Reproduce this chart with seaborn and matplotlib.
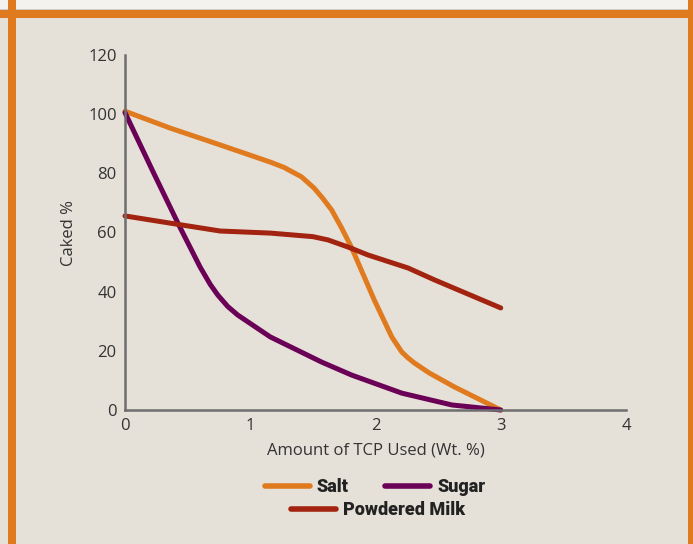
import matplotlib
matplotlib.use("Agg")
import matplotlib.pyplot as plt
from matplotlib.patches import Rectangle
from matplotlib.lines import Line2D
import seaborn as sns
import pandas as pd

# Caking test results: percentage caked vs. TCP added
salt_x = [0, 0.36, 0.76, 1.16, 1.27, 1.41, 1.51, 1.58, 1.65, 1.73, 1.81, 1.99, 2.13, 2.21, 2.26, 2.31, 2.43, 2.63, 3.0]
salt_y = [101, 95.3, 89.6, 83.8, 82.0, 78.8, 75, 71.5, 67.6, 61.5, 54.8, 37.2, 24.7, 19.6, 17.6, 15.9, 12.5, 7.8, 0]
sugar_x = [0, 0.23, 0.43, 0.6, 0.68, 0.74, 0.82, 0.9, 1.16, 1.57, 1.81, 2.21, 2.61, 3.0]
sugar_y = [100.5, 80, 62.5, 48.3, 42.5, 38.9, 35.0, 32.1, 24.7, 16.2, 11.8, 5.7, 1.7, 0]
milk_x = [0, 0.4, 0.76, 1.16, 1.5, 1.62, 1.78, 1.94, 2.26, 2.47, 3.0]
milk_y = [65.6, 62.9, 60.5, 59.8, 58.6, 57.5, 55.1, 52.4, 48, 44, 34.5]

series_names = ["Salt", "Sugar", "Powdered Milk"]
x_ticks = [0, 1, 2, 3, 4]
y_ticks = [0, 20, 40, 60, 80, 100, 120]

colors = {"Salt": "#e07a1f", "Sugar": "#6b0057", "Powdered Milk": "#a2230f"}
bg = "#e5e1d8"

df = pd.concat([
    pd.DataFrame({"x": salt_x, "y": salt_y, "series": "Salt"}),
    pd.DataFrame({"x": sugar_x, "y": sugar_y, "series": "Sugar"}),
    pd.DataFrame({"x": milk_x, "y": milk_y, "series": "Powdered Milk"}),
], ignore_index=True)

sns.set_style("white")
plt.rcParams["font.family"] = ["Open Sans", "DejaVu Sans"]

W, H = 693, 544
fig = plt.figure(figsize=(W / 100, H / 100), dpi=100, facecolor=bg)
ax = fig.add_axes([125 / W, 1 - 410 / H, (626 - 125) / W, (410 - 55) / H])
ax.set_facecolor(bg)

sns.lineplot(data=df, x="x", y="y", hue="series", hue_order=series_names,
             palette=colors, estimator=None, sort=False, linewidth=3.6,
             legend=False, ax=ax)
for ln in ax.lines:
    ln.set_solid_capstyle("round")
    ln.set_solid_joinstyle("round")
    ln.set_clip_on(False)

ax.set_xlim(0, 4)
ax.set_ylim(0, 120)
ax.set_xticks(x_ticks)
ax.set_yticks(y_ticks)
ax.tick_params(length=0, labelsize=12, labelcolor="#333333")
ax.tick_params(axis="x", pad=6)
ax.tick_params(axis="y", pad=6)
for s in ["top", "right"]:
    ax.spines[s].set_visible(False)
for s in ["left", "bottom"]:
    ax.spines[s].set_color("#6e6e6e")
    ax.spines[s].set_linewidth(1.8)
ax.set_xlabel("Amount of TCP Used (Wt. %)", fontsize=12, color="#333333", labelpad=6)
ax.set_ylabel("Caked %", fontsize=12, color="#333333", labelpad=8)

# Legend: two entries on the first row, one centred below
leg_font = {"family": ["Roboto", "DejaVu Sans"], "weight": "heavy", "size": 13}
handles = {n: Line2D([], [], color=colors[n], linewidth=4) for n in series_names}
leg1 = fig.legend([handles["Salt"], handles["Sugar"]], ["Salt", "Sugar"], ncol=2,
                  loc="center", bbox_to_anchor=(375 / W, 1 - 487 / H), frameon=False,
                  prop=leg_font, handlelength=2.5, handletextpad=0.4, columnspacing=2.0)
leg2 = fig.legend([handles["Powdered Milk"]], ["Powdered Milk"], loc="center",
                  bbox_to_anchor=(378 / W, 1 - 510 / H), frameon=False,
                  prop=leg_font, handlelength=2.5, handletextpad=0.4)
for leg in (leg1, leg2):
    for t in leg.get_texts():
        t.set_color("#222222")

# Page frame: light strip above an orange rule, orange side bars
fig.add_artist(Rectangle((0, 1 - 10 / H), 1, 10 / H, transform=fig.transFigure,
                         facecolor="#f3f2ee", edgecolor="none", zorder=-1))
fig.add_artist(Rectangle((0, 1 - 10 / H), 1, 1 / H, transform=fig.transFigure,
                         facecolor="#cfccc5", edgecolor="none"))
fig.add_artist(Rectangle((0, 1 - 17.5 / H), 1, 7.5 / H, transform=fig.transFigure,
                         facecolor="#e07a1f", edgecolor="none"))
fig.add_artist(Rectangle((8 / W, 0), 8 / W, 1, transform=fig.transFigure,
                         facecolor="#e07a1f", edgecolor="none"))
fig.add_artist(Rectangle((688 / W, 0), 6 / W, 1, transform=fig.transFigure,
                         facecolor="#e07a1f", edgecolor="none"))

fig.savefig("out.png", dpi=100, facecolor=bg)
